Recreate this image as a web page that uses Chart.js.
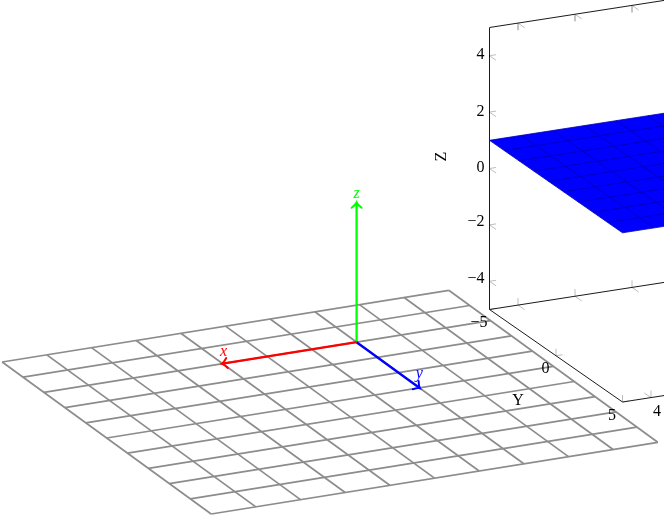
<!DOCTYPE html>
<html>
<head>
<meta charset="utf-8">
<title>Plane and coordinate frame</title>
<script src="https://cdn.jsdelivr.net/npm/chart.js@4"></script>
<style>
  html, body { margin: 0; background: #fff; }
  canvas { display: block; }
</style>
</head>
<body>
<canvas id="chart" width="664" height="515"></canvas>
<script>
// floor grid and frame arrows, in frame units
const gridX = [-3, -2, -1, 0, 1, 2, 3, 4, 5, 6, 7];
const gridY = [-2, -1, 0, 1, 2, 3, 4, 5, 6, 7, 8];
const arrowLength = 3;

// 3D axis box and surface
const meshX = [-5, -3.89, -2.78, -1.67, -0.56, 0.56, 1.67, 2.78, 3.89, 5];
const meshY = [-5, -3.89, -2.78, -1.67, -0.56, 0.56, 1.67, 2.78, 3.89, 5];
const surfaceZ = [1, 1, 1, 1, 1, 1, 1, 1, 1, 1];
const xTicks = [4, 2, 0, -2, -4];
const yTicks = [-5, 0, 5];
const zTicks = [4, 2, 0, -2, -4];

// screen projections
function frame(x, y, z) {
    return {
        x: 356.6 - 44.66 * x + 20.9 * y,
        y: 342.2 + 7.17 * x + 15.2 * y - 46.3 * z
    };
}

function box(x, y, z) {
    return {
        x: 489.5 + (5 - x) * 28.5 + (y + 5) * 13.3,
        y: 168.5 - (5 - x) * 4.42 + (y + 5) * 9.25 - z * 28.2
    };
}

function minus(v) {
    return String(v).replace('-', '\u2212');
}

const sets = [];

function addLine(points, color, width) {
    sets.push({ data: points, borderColor: color, borderWidth: width, showLine: true, pointRadius: 0, tension: 0 });
}

// first pushed is drawn on top, so keep the order front to back
const arrowColors = { x: '#ff0000', y: '#0000ff', z: '#00ff00' };
addLine([frame(0, 0, 0), frame(arrowLength, 0, 0)], arrowColors.x, 2.3);
addLine([frame(0, 0, 0), frame(0, arrowLength, 0)], arrowColors.y, 2.3);
addLine([frame(0, 0, 0), frame(0, 0, arrowLength)], arrowColors.z, 2.3);

gridX.forEach(x => addLine([frame(x, gridY[0], 0), frame(x, gridY[gridY.length - 1], 0)], '#8c8c8c', 1.7));
gridY.forEach(y => addLine([frame(gridX[0], y, 0), frame(gridX[gridX.length - 1], y, 0)], '#8c8c8c', 1.7));

// box edges
const edge = '#1a1a1a';
addLine([box(5, -5, -5), box(5, -5, 5)], edge, 1);
addLine([box(5, -5, 5), box(-5, -5, 5)], edge, 1);
addLine([box(5, -5, -5), box(-5, -5, -5)], edge, 1);
addLine([box(5, -5, -5), box(5, 5, -5)], edge, 1);
addLine([box(5, 5, -5), box(-5, 5, -5)], edge, 1);

// small ticks
const tickColor = '#bdbdbd';
zTicks.forEach(z => {
    addLine([box(5, -5, z), box(4.77, -5, z)], tickColor, 1);
    addLine([box(5, -5, z), box(5, -4.5, z)], tickColor, 1);
});
xTicks.forEach(x => {
    addLine([box(x, -5, 5), box(x, -5, 4.75)], tickColor, 1);
    addLine([box(x, -5, 5), box(x, -4.5, 5)], tickColor, 1);
    addLine([box(x, -5, -5), box(x, -5, -4.75)], tickColor, 1);
    addLine([box(x, -5, -5), box(x, -4.5, -5)], tickColor, 1);
    addLine([box(x, 5, -5), box(x, 5, -4.75)], tickColor, 1);
    addLine([box(x, 5, -5), box(x, 4.5, -5)], tickColor, 1);
});
yTicks.forEach(y => {
    addLine([box(5, y, -5), box(5, y, -4.75)], tickColor, 1);
    addLine([box(5, y, -5), box(4.77, y, -5)], tickColor, 1);
});

// surface mesh above its fill
const meshColor = '#0000b4';
meshX.forEach((x, i) => addLine(meshY.map(y => box(x, y, surfaceZ[i])), meshColor, 0.8));
meshY.forEach(y => addLine(meshX.map((x, i) => box(x, y, surfaceZ[i])), meshColor, 0.8));

const last = meshX.length - 1;
sets.push({
    data: [
        box(meshX[0], meshY[0], surfaceZ[0]),
        box(meshX[last], meshY[0], surfaceZ[last]),
        box(meshX[last], meshY[last], surfaceZ[last]),
        box(meshX[0], meshY[last], surfaceZ[0])
    ],
    showLine: true,
    pointRadius: 0,
    borderWidth: 0,
    backgroundColor: '#0000ff',
    fill: 'shape'
});

// text and arrow heads go through the same scales as the lines
function labelsAndHeads(chart) {
    const ctx = chart.ctx;
    const sx = chart.scales.x;
    const sy = chart.scales.y;

    function text(str, p, dx, dy, font, color, align) {
        ctx.font = font;
        ctx.fillStyle = color || '#000';
        ctx.textAlign = align || 'center';
        ctx.textBaseline = 'middle';
        ctx.fillText(str, sx.getPixelForValue(p.x) + dx, sy.getPixelForValue(p.y) + dy);
    }

    function head(from, to, color) {
        const tx = sx.getPixelForValue(to.x);
        const ty = sy.getPixelForValue(to.y);
        const a = Math.atan2(sy.getPixelForValue(to.y) - sy.getPixelForValue(from.y), sx.getPixelForValue(to.x) - sx.getPixelForValue(from.x));
        ctx.save();
        ctx.translate(tx, ty);
        ctx.rotate(a);
        ctx.strokeStyle = color;
        ctx.lineWidth = 2;
        ctx.lineCap = 'round';
        ctx.beginPath();
        ctx.moveTo(-4.5, -5);
        ctx.quadraticCurveTo(-1.5, -1, 0.8, 0);
        ctx.quadraticCurveTo(-1.5, 1, -4.5, 5);
        ctx.stroke();
        ctx.restore();
    }

    const o = frame(0, 0, 0);
    const tipX = frame(arrowLength, 0, 0);
    const tipY = frame(0, arrowLength, 0);
    const tipZ = frame(0, 0, arrowLength);
    head(o, tipX, arrowColors.x);
    head(o, tipY, arrowColors.y);
    head(o, tipZ, arrowColors.z);

    const italic = 'italic 16px "Liberation Serif"';
    text('x', tipX, 1, -12, italic, arrowColors.x);
    text('y', tipY, 0, -14, italic, arrowColors.y);
    text('z', tipZ, 0, -10, italic, arrowColors.z);

    const tickFont = '16px "Liberation Serif"';
    zTicks.forEach(z => text(minus(z), box(5, -5, z), -5, z < 0 ? -3 : -0.5, tickFont, '#000', 'right'));
    yTicks.forEach(y => text(minus(y), box(5, y, -5), -10.5, 13.5, tickFont));
    text(minus(xTicks[0]), box(xTicks[0], 5, -5), 6, 14, tickFont);
    text('Y', box(5, 0, -5), -38, 45, tickFont);

    const zPos = box(5, -5, 0);
    ctx.save();
    ctx.translate(sx.getPixelForValue(zPos.x) - 47.5, sy.getPixelForValue(zPos.y) - 12);
    ctx.rotate(-Math.PI / 2);
    ctx.font = tickFont;
    ctx.fillStyle = '#000';
    ctx.textAlign = 'center';
    ctx.textBaseline = 'middle';
    ctx.fillText('Z', 0, 0);
    ctx.restore();
}

new Chart(document.getElementById('chart').getContext('2d'), {
    type: 'scatter',
    data: { datasets: sets },
    options: {
        responsive: false,
        animation: false,
        layout: { padding: 0 },
        scales: {
            x: { type: 'linear', display: false, min: 0, max: 664 },
            y: { type: 'linear', display: false, min: 0, max: 515, reverse: true }
        },
        plugins: {
            legend: { display: false },
            tooltip: { enabled: false }
        }
    },
    plugins: [{ id: 'labelsAndHeads', afterDraw: labelsAndHeads }]
});
</script>
</body>
</html>
